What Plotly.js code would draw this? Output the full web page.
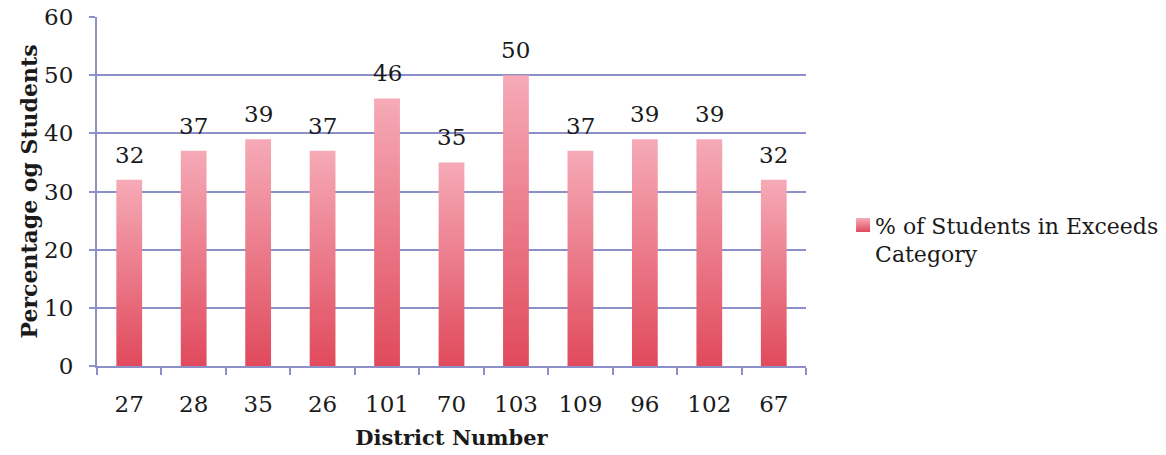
<!DOCTYPE html>
<html>
<head>
<meta charset="utf-8">
<script src="https://cdn.plot.ly/plotly-3.0.1.min.js"></script>
<style>
html,body{margin:0;padding:0;background:#fff;}
#chart{width:1166px;height:455px;}
</style>
</head>
<body>
<div id="chart"></div>
<script>
const districts = ['27','28','35','26','101','70','103','109','96','102','67'];
const exceedsPct = [32,37,39,37,46,35,50,37,39,39,32];
const seriesName = '% of Students in Exceeds<br>Category';
const yTicks = [0,10,20,30,40,50,60];

const serif = 'DejaVu Serif, Liberation Serif, serif';
const gridCol = '#8c90c8';
const txtCol = '#1a1a1a';

const xIdx = districts.map((d, i) => i);

const trace = {
  type: 'bar',
  x: xIdx,
  y: exceedsPct,
  name: seriesName,
  width: 0.4,
  marker: {color: '#ec7d8c', line: {width: 0}},
  hoverinfo: 'skip',
  showlegend: true
};

const annotations = xIdx.map(i => ({
  x: i, y: exceedsPct[i], text: String(exceedsPct[i]),
  xref: 'x', yref: 'y', showarrow: false,
  yanchor: 'bottom', yshift: 10,
  font: {family: serif, size: 23, color: txtCol}
}));

const layout = {
  width: 1166, height: 455,
  margin: {l: 97, r: 360, t: 17, b: 89, autoexpand: false},
  paper_bgcolor: '#fff', plot_bgcolor: '#fff',
  xaxis: {
    type: 'linear',
    range: [-0.5, districts.length - 0.5],
    tickmode: 'array',
    tickvals: xIdx,
    ticktext: districts,
    ticks: '',
    showgrid: false,
    showline: true, linecolor: gridCol, linewidth: 2,
    tickfont: {family: serif, size: 23, color: txtCol},
    ticklabelstandoff: 16,
    automargin: false,
    title: {text: '<b>District Number</b>', font: {family: serif, size: 21, color: txtCol}, standoff: 15},
    minor: {tickmode: 'array', tickvals: districts.map((d, i) => i - 0.5).concat([districts.length - 0.5]), ticks: 'outside', ticklen: 7, tickwidth: 2, tickcolor: gridCol, showgrid: false}
  },
  yaxis: {
    range: [0, 60],
    tickvals: yTicks,
    ticks: 'outside', ticklen: 6, tickwidth: 2, tickcolor: gridCol,
    showgrid: true, gridcolor: gridCol, gridwidth: 2,
    zeroline: false,
    showline: true, linecolor: gridCol, linewidth: 2,
    tickfont: {family: serif, size: 23, color: txtCol},
    ticklabelstandoff: 11,
    automargin: false,
    title: {text: '<b>Percentage og Students</b>', font: {family: serif, size: 22, color: txtCol}, standoff: 0}
  },
  legend: {
    x: 1.041, y: 0.362, xanchor: 'left', yanchor: 'middle',
    valign: 'top',
    font: {family: serif, size: 22, color: txtCol},
    itemwidth: 30
  },
  annotations: annotations,
  showlegend: true
};

Plotly.newPlot('chart', [trace], layout, {displayModeBar: false, staticPlot: true}).then(gd => {
  const svg = gd.querySelector('svg.main-svg');
  const ns = 'http://www.w3.org/2000/svg';
  let defs = svg.querySelector('defs');
  if (!defs) { defs = document.createElementNS(ns, 'defs'); svg.insertBefore(defs, svg.firstChild); }
  const g = document.createElementNS(ns, 'linearGradient');
  g.setAttribute('id', 'barGrad');
  g.setAttribute('x1', '0'); g.setAttribute('y1', '0');
  g.setAttribute('x2', '0'); g.setAttribute('y2', '1');
  [['0%', '#f6aab7'], ['100%', '#e04a5c']].forEach(([o, c]) => {
    const s = document.createElementNS(ns, 'stop');
    s.setAttribute('offset', o); s.setAttribute('stop-color', c);
    g.appendChild(s);
  });
  defs.appendChild(g);
  gd.querySelectorAll('.barlayer .point path').forEach(p => {
    p.style.fill = 'url(#barGrad)';
  });
  gd.querySelectorAll('.legend .legendpoints').forEach(lp => {
    lp.setAttribute('transform', 'translate(8,0)');
    lp.querySelectorAll('path').forEach(p => {
      p.setAttribute('d', 'M7,7H-7V-7H7Z');
      p.style.fill = 'url(#barGrad)';
      p.style.stroke = 'none';
    });
  });
});
</script>
</body>
</html>
